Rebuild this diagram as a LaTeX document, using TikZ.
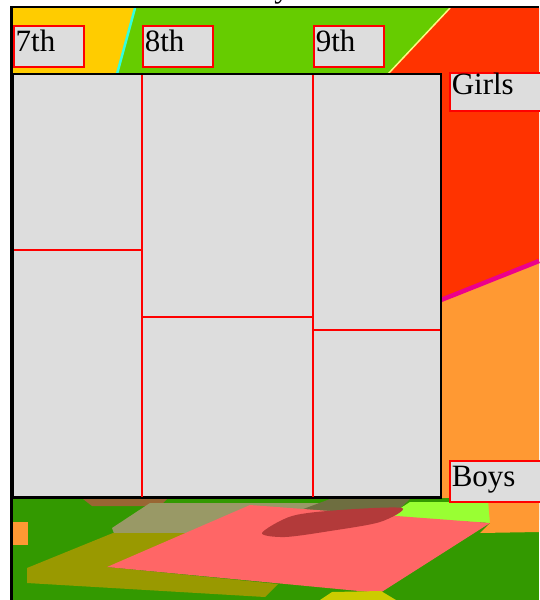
\documentclass[tikz,border=0pt]{standalone}
\usepackage{fontspec}
\setmainfont{Liberation Serif}
\definecolor{cellgray}{HTML}{DDDDDD}
\definecolor{gold}{HTML}{FFCC00}
\definecolor{grass}{HTML}{66CC00}
\definecolor{scarlet}{HTML}{FF3300}
\definecolor{tangerine}{HTML}{FF9933}
\definecolor{field}{HTML}{339900}
\definecolor{khaki}{HTML}{999966}
\definecolor{olivebar}{HTML}{999900}
\definecolor{salmon}{HTML}{FF6666}
\definecolor{rust}{HTML}{B33A3A}
\definecolor{lime}{HTML}{99FF33}
\definecolor{dusk}{HTML}{6E6E40}
\definecolor{straw}{HTML}{CCCC00}
\definecolor{aqua}{HTML}{33FFDD}
\begin{document}
\begin{tikzpicture}[x=1pt,y=-1pt,every node/.style={font=\fontsize{31}{31}\selectfont},
  tag/.style={draw=red,line width=1.5pt,fill=cellgray,anchor=north west,inner xsep=2pt,inner ysep=0pt,
    text width=66pt,align=left,minimum height=41pt,text height=22pt,text depth=11pt},
  side/.style={tag,text width=120pt},
  divider/.style={red,line width=1.6pt}]
\useasboundingbox (0,0) rectangle (539,600);
\fill[white] (0,0) rectangle (539,600);
\fill[gold] (13,8)--(135,8)--(117,74)--(13,74)--cycle;
\fill[grass] (135,8)--(450,8)--(388,74)--(117,74)--cycle;
\fill[scarlet] (450,8)--(539,8)--(539,262)--(430,305)--(430,74)--(388,74)--cycle;
\fill[tangerine] (430,305)--(539,262)--(539,520)--(430,520)--cycle;
\draw[aqua,line width=2.5pt] (135,8)--(117,74);
\draw[yellow!50!white,line width=1.5pt] (450,8)--(388,74);
\draw[magenta,line width=4.5pt] (441,300)--(539,261);
\fill[field] (13,498) rectangle (539,600);
\fill[tangerine] (13,522) rectangle (28,545);
\fill[brown!80!black] (83,499)--(167,499)--(160,506)--(92,506)--cycle;
\fill[khaki] (112,528)--(150,503)--(335,503)--(330,536)--(115,536)--cycle;
\fill[olivebar] (27,568)--(113,533)--(200,533)--(107,567)--(278,584)--(265,597)--(27,583)--cycle;
\fill[dusk] (298,511)--(330,499)--(410,499)--(395,513)--cycle;
\fill[lime] (387,517)--(410,502)--(492,502)--(490,523)--cycle;
\fill[tangerine] (488,500)--(539,500)--(539,532)--(480,533)--(490,523)--cycle;
\fill[salmon] (107,567)--(250,505)--(490,523)--(380,593)--cycle;
\fill[rust] plot[smooth cycle] coordinates {(262,533) (292,516) (340,510) (402,508) (380,522) (330,531) (285,537)};
\fill[straw] (320,600)--(332,592)--(381,591)--(396,600)--cycle;
\draw[line width=3pt] (11.5,6)--(11.5,600);
\draw[line width=2pt] (10,6.5)--(539,6.5);
\node[anchor=base] (head) at (282,-3) {y};
\draw[line width=2.2pt,fill=cellgray] (13,74) rectangle (441,497.5);
\draw[divider] (142,75)--(142,496.5);
\draw[divider] (313,75)--(313,496.5);
\draw[divider] (14,250)--(142,250);
\draw[divider] (142,317)--(313,317);
\draw[divider] (313,330)--(440,330);
\node[tag] (g7) at (13,25) {7th};
\node[tag] (g8) at (142,25) {8th};
\node[tag] (g9) at (313,25) {9th};
\node[side,minimum height=38pt,text depth=16pt] (girls) at (449,72) {Girls};
\node[side] (boys) at (449,460) {Boys};
\end{tikzpicture}
\end{document}
